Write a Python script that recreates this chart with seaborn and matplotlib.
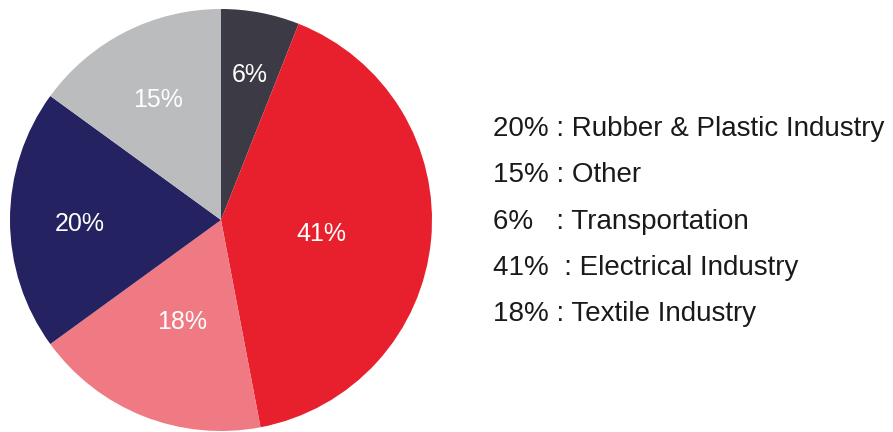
import numpy as np
import seaborn as sns
import matplotlib.pyplot as plt

# Data
categories = ["Transportation", "Electrical Industry", "Textile Industry",
              "Rubber & Plastic Industry", "Other"]
shares = [6, 41, 18, 20, 15]
colors = ["#3b3a45", "#e8202e", "#f07a83", "#252262", "#bbbcbe"]

# legend order as printed beside the pie
legend_order = ["Rubber & Plastic Industry", "Other", "Transportation",
                "Electrical Industry", "Textile Industry"]
legend_gap = {"Rubber & Plastic Industry": " ", "Other": " ",
              "Transportation": "   ", "Electrical Industry": "  ",
              "Textile Industry": " "}

# radial placement of the in-slice labels (fraction of radius)
label_r = [0.72, 0.48, 0.50, 0.67, 0.66]

sns.set_theme(style="white")
plt.rcParams['font.family'] = ['Liberation Sans', 'DejaVu Sans']

fig = plt.figure(figsize=(8.93, 4.32), dpi=100)
ax = fig.add_axes([10 / 893, 1 / 432, 422 / 893, 422 / 432])

wedges, _ = ax.pie(shares, colors=colors, startangle=90, counterclock=False,
                   wedgeprops=dict(linewidth=0))
ax.set_xlim(-1, 1)
ax.set_ylim(-1, 1)
ax.set_aspect("equal")
ax.axis("off")

for w, s, r in zip(wedges, shares, label_r):
    mid = np.deg2rad((w.theta1 + w.theta2) / 2)
    ax.text(r * np.cos(mid), r * np.sin(mid) - 0.02, f"{s}%", ha="center",
            va="center", color="white", fontsize=18)

share_of = dict(zip(categories, shares))
for i, name in enumerate(legend_order):
    y = 1 - (129 + i * 46.3) / 432
    fig.text(493 / 893, y, f"{share_of[name]}%{legend_gap[name]}: {name}",
             ha="left", va="center", fontsize=20, color="#1a1a1a")

fig.savefig("out.png", dpi=100)
